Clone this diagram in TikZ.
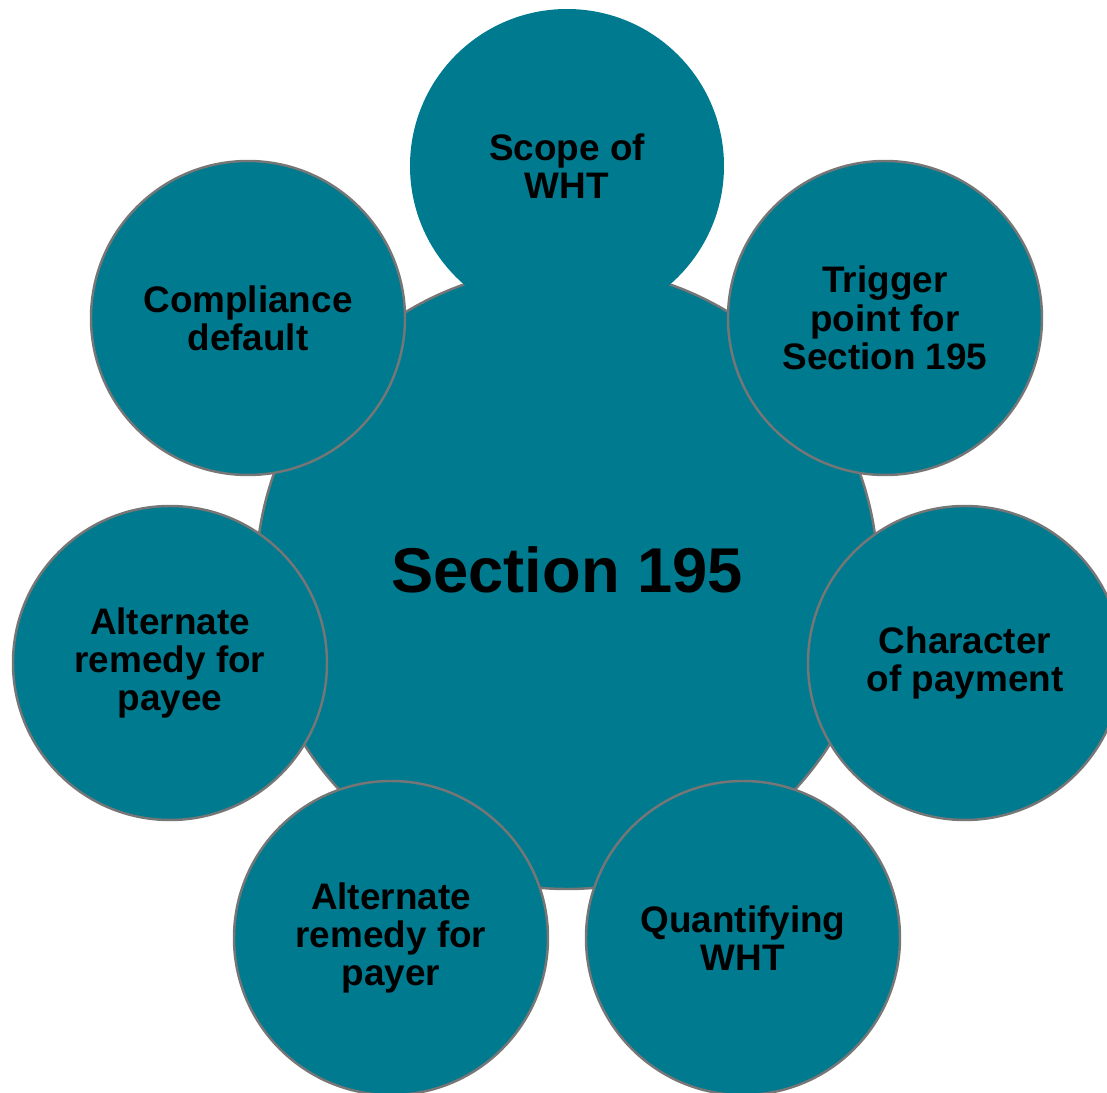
\documentclass[tikz,border=0pt]{standalone}
\usepackage{fontspec}
\setmainfont{Liberation Sans}
\usepackage{tikz}
\definecolor{secteal}{RGB}{0, 122, 143}
\definecolor{secgray}{RGB}{118, 118, 118}

\tikzset{
    hub/.style={circle, fill=secteal, draw=secgray, line width=0.7pt, minimum size=6.22cm, inner sep=0pt,
        font=\fontsize{18}{20}\selectfont\bfseries, text depth=0.16cm},
    topic/.style={circle, fill=secteal, draw=secgray, line width=0.7pt, minimum size=3.14cm, inner sep=0pt,
        align=center, font=\fontsize{10.5}{10.9}\selectfont\bfseries}
}

\begin{document}
\begin{tikzpicture}
    \useasboundingbox (0,0) rectangle (11.07,10.93);

    % Central circle
    \node[hub] (hub) at (5.67,5.15) {Section 195};

    % Surrounding topics
    \node[topic] (trigger) at (8.85,7.75) {Trigger\\point for\\Section 195};
    \node[topic] (character) at (9.65,4.30) {Character\\of payment};
    \node[topic] (quantify) at (7.43,1.55) {Quantifying\\WHT};
    \node[topic] (payer) at (3.91,1.55) {Alternate\\remedy for\\payer};
    \node[topic] (payee) at (1.70,4.30) {Alternate\\remedy for\\payee};
    \node[topic] (compliance) at (2.48,7.75) {Compliance\\default};

    % Top circle has no outline
    \node[topic, draw=none] (scope) at (5.67,9.27) {Scope of\\WHT};
\end{tikzpicture}
\end{document}
